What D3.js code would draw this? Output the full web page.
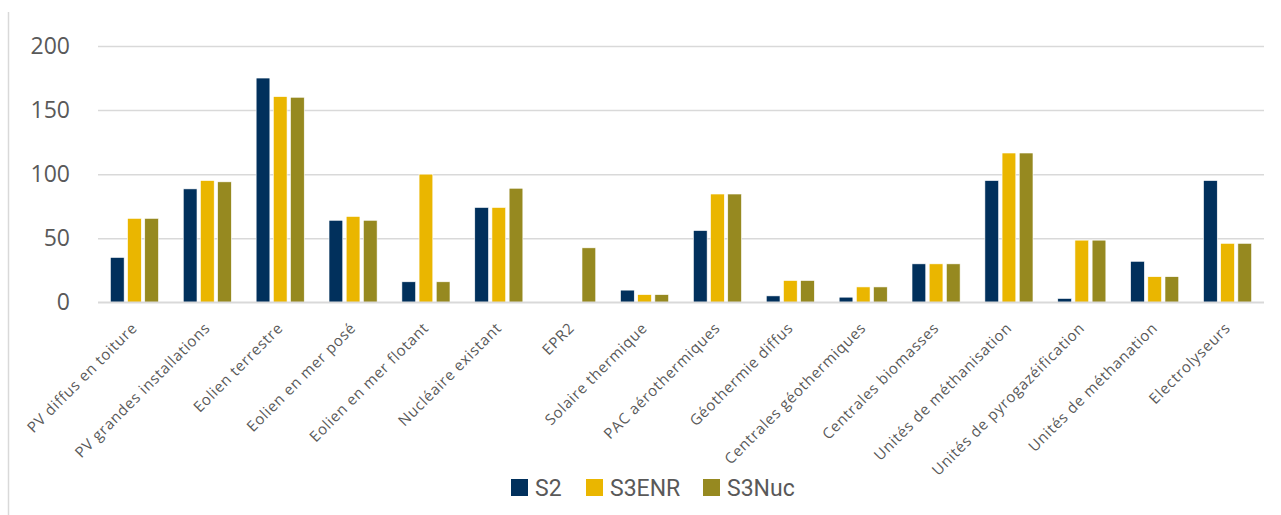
<!DOCTYPE html>
<html>
<head>
<meta charset="utf-8">
<script src="https://cdn.jsdelivr.net/npm/d3@7"></script>
<style>
  html, body { margin: 0; padding: 0; background: #fff; }
  svg { display: block; }
</style>
</head>
<body>
<svg id="chart" width="1281" height="515"></svg>
<script>
const categories = [
  "PV diffus en toiture", "PV grandes installations", "Eolien terrestre",
  "Eolien en mer posé", "Eolien en mer flotant", "Nucléaire existant", "EPR2",
  "Solaire thermique", "PAC aérothermiques", "Géothermie diffus",
  "Centrales géothermiques", "Centrales biomasses", "Unités de méthanisation",
  "Unités de pyrogazéification", "Unités de méthanation", "Electrolyseurs"
];
const seriesNames = ["S2", "S3ENR", "S3Nuc"];
const s2     = [35, 88.5, 175, 64, 16, 74, 0, 9.5, 56, 5, 4, 30, 95, 3, 32, 95];
const s3enr  = [65.5, 95, 160.5, 67, 100, 74, 0, 6, 84.5, 17, 12, 30, 116.5, 48.5, 20, 46];
const s3nuc  = [65.5, 94, 160, 64, 16, 89, 42.5, 6, 84.5, 17, 12, 30, 116.5, 48.5, 20, 46];
const yTicks = [0, 50, 100, 150, 200];
const colors = ["#01305C", "#EAB600", "#968920"];

const seriesValues = [s2, s3enr, s3nuc];
const data = categories.map((c, i) => ({
  cat: c,
  values: seriesNames.map((s, j) => ({ key: s, value: seriesValues[j][i] }))
}));

const svg = d3.select("#chart");

// frame left edge
svg.append("line")
  .attr("x1", 8.5).attr("x2", 8.5).attr("y1", 12).attr("y2", 515)
  .attr("stroke", "#d9d9d9").attr("stroke-width", 1.5);

const x0 = d3.scaleBand().domain(categories).range([98, 1264])
  .paddingInner(0.34).paddingOuter(0.17);
const x1 = d3.scaleBand().domain(seriesNames).range([0, x0.bandwidth()])
  .paddingInner(0.2);
const y = d3.scaleLinear().domain([0, 200]).range([302.3, 46]);

// gridlines
const grid = svg.append("g")
  .attr("transform", "translate(98,0)")
  .call(d3.axisLeft(y).tickValues(yTicks).tickSize(-(1264 - 98)).tickFormat(""));
grid.select(".domain").remove();
grid.selectAll(".tick line").attr("stroke", "#d9d9d9").attr("stroke-width", 1.5);

// y tick labels
const yAxis = svg.append("g")
  .attr("transform", "translate(70,0)")
  .call(d3.axisLeft(y).tickValues(yTicks).tickSize(0).tickPadding(0));
yAxis.select(".domain").remove();
yAxis.selectAll("text")
  .attr("fill", "#595959")
  .style("font-family", "'Open Sans', sans-serif")
  .style("font-size", "23px");

// bars
const groups = svg.append("g").selectAll("g")
  .data(data).join("g")
  .attr("transform", d => `translate(${x0(d.cat)},0)`);
groups.selectAll("rect")
  .data(d => d.values.filter(v => v.value > 0))
  .join("rect")
  .attr("x", d => x1(d.key))
  .attr("width", x1.bandwidth())
  .attr("y", d => y(d.value))
  .attr("height", d => y(0) - y(d.value))
  .attr("fill", (d) => colors[seriesNames.indexOf(d.key)])
  .attr("stroke", "#ffffff").attr("stroke-width", 0.6);

// x axis (baseline + labels)
const xAxis = svg.append("g")
  .attr("transform", `translate(0,${y(0)})`)
  .call(d3.axisBottom(x0).tickSize(0).tickPadding(0));
xAxis.attr("font-family", "'Open Sans', sans-serif").attr("font-size", 15);
xAxis.select(".domain").attr("stroke", "#d9d9d9").attr("stroke-width", 1.5)
  .attr("d", `M98,0H1264`);
xAxis.selectAll(".tick text")
  .attr("fill", "#595959")
  .attr("letter-spacing", "0.7px")
  .attr("text-anchor", "end")
  .attr("dy", "0.35em")
  .attr("y", 0)
  .attr("transform", "translate(0,23) rotate(-45)");

// legend
const legend = svg.append("g");
const legendX = [511, 586, 703];
seriesNames.forEach((s, i) => {
  const g = legend.append("g").attr("transform", `translate(${legendX[i]},479)`);
  g.append("rect").attr("width", 17).attr("height", 17).attr("fill", colors[i]);
  g.append("text").attr("x", 24).attr("y", 8.5).attr("dy", "0.36em")
    .attr("fill", "#595959")
    .style("font-family", "Roboto, sans-serif")
    .style("font-size", "23px")
    .text(s);
});
</script>
</body>
</html>
